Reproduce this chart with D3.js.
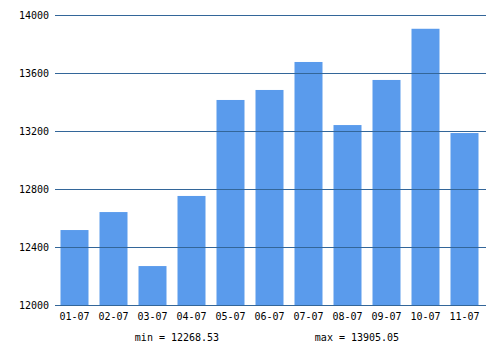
<!DOCTYPE html>
<html><head><meta charset="utf-8">
<script src="https://cdn.jsdelivr.net/npm/d3@7/dist/d3.min.js"></script>
<style>body{margin:0;background:#fff}svg{display:block}</style>
</head><body>
<script>
const categories = ["01-07","02-07","03-07","04-07","05-07","06-07","07-07","08-07","09-07","10-07","11-07"];
const values = [12517, 12641, 12268.53, 12752, 13414, 13483, 13676, 13241, 13552, 13905.05, 13186];
const yTicks = [12000, 12400, 12800, 13200, 13600, 14000];

const W = 500, H = 350;
const svg = d3.select("body").append("svg").attr("width", W).attr("height", H);
const font = "'DejaVu Sans Mono', monospace";

const x = d3.scaleBand().domain(categories).range([55, 484]).paddingInner(0.282).paddingOuter(0.141);
const y = d3.scaleLinear().domain([12000, 14000]).range([305, 15]);

svg.append("g").selectAll("rect").data(values).join("rect")
  .attr("x", (d, i) => x(categories[i]))
  .attr("width", x.bandwidth())
  .attr("y", d => y(d))
  .attr("height", d => y(12000) - y(d))
  .attr("fill", "#5a9bec");

const g = svg.append("g");
g.selectAll("line").data(yTicks).join("line")
  .attr("x1", 55).attr("x2", 486)
  .attr("y1", d => Math.round(y(d)) + 0.5).attr("y2", d => Math.round(y(d)) + 0.5)
  .attr("stroke", "#336699").attr("stroke-width", 1);
g.selectAll("text").data(yTicks).join("text")
  .attr("x", 49).attr("y", d => y(d) + 4)
  .attr("text-anchor", "end").attr("font-family", font).attr("font-size", 10).attr("fill", "#000")
  .text(d => d);

svg.append("g").selectAll("text").data(categories).join("text")
  .attr("x", d => x(d) + x.bandwidth() / 2).attr("y", 320)
  .attr("text-anchor", "middle").attr("font-family", font).attr("font-size", 10).attr("fill", "#000")
  .text(d => d);

const minV = d3.min(values), maxV = d3.max(values);
svg.append("text").attr("x", 177).attr("y", 341).attr("text-anchor", "middle")
  .attr("font-family", font).attr("font-size", 10).text("min = " + minV.toFixed(2));
svg.append("text").attr("x", 357).attr("y", 341).attr("text-anchor", "middle")
  .attr("font-family", font).attr("font-size", 10).text("max = " + maxV.toFixed(2));
</script>
</body></html>
